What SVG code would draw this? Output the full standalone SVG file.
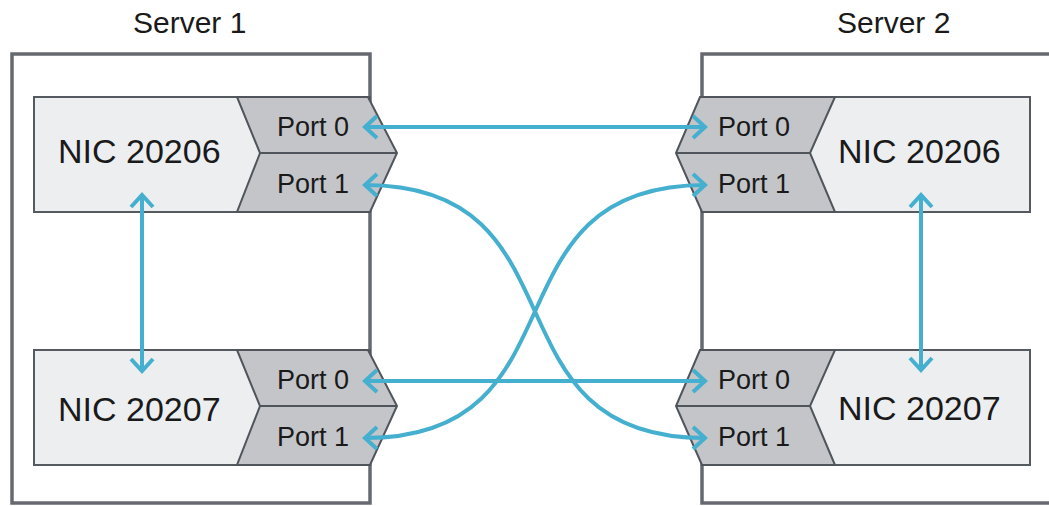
<svg xmlns="http://www.w3.org/2000/svg" width="1049" height="506" viewBox="0 0 1049 506">
<style>
.server{fill:#ffffff;stroke:#666a70;stroke-width:3.5}
.nic{fill:#eceef0;stroke:#555a60;stroke-width:2}
.port{fill:#c3c5c9;stroke:#4f555b;stroke-width:2;stroke-linejoin:miter}
.lbl{font-family:"Liberation Sans",Arial,sans-serif;fill:#1a1a1a}
.srv{font-size:30px}
.nict{font-size:34px}
.pt{font-size:27px}
.conn{fill:none;stroke:#45afcf;stroke-width:4;marker-start:url(#arr);marker-end:url(#arr)}
</style>
<defs>
<marker id="arr" markerUnits="userSpaceOnUse" orient="auto-start-reverse" refX="0" refY="0" markerWidth="30" markerHeight="30" viewBox="-20 -15 30 30" overflow="visible">
<path d="M -12 -11 L 0 0 L -12 11" fill="none" stroke="#45afcf" stroke-width="4"/>
</marker>
</defs>
<rect width="1049" height="506" fill="#ffffff"/>
<g id="server1">
<rect class="server" x="12" y="54" width="358" height="449"/>
<text class="lbl srv" x="133" y="33">Server 1</text>
</g>
<g id="server2">
<rect class="server" x="702" y="54" width="360" height="449"/>
<text class="lbl srv" x="837" y="33">Server 2</text>
</g>
<g id="s1-nic20206">
<rect class="nic" x="34" y="97" width="336" height="115"/>
<polygon class="port" points="237,97 368,97 397,153 370,212 237,212 260,153"/>
<line x1="260" y1="153" x2="397" y2="153" stroke="#4f555b" stroke-width="2"/>
<text class="lbl nict" x="58" y="163">NIC 20206</text>
<text class="lbl pt" x="277" y="136">Port 0</text>
<text class="lbl pt" x="277" y="193">Port 1</text>
</g>
<g id="s1-nic20207">
<rect class="nic" x="34" y="350" width="336" height="115"/>
<polygon class="port" points="237,350 368,350 397,406 370,465 237,465 260,406"/>
<line x1="260" y1="406" x2="397" y2="406" stroke="#4f555b" stroke-width="2"/>
<text class="lbl nict" x="58" y="421">NIC 20207</text>
<text class="lbl pt" x="277" y="389">Port 0</text>
<text class="lbl pt" x="277" y="446">Port 1</text>
</g>
<g id="s2-nic20206">
<rect class="nic" x="702" y="97" width="328" height="115"/>
<polygon class="port" points="835,97 700,97 676,153 702,212 835,212 810,153"/>
<line x1="676" y1="153" x2="810" y2="153" stroke="#4f555b" stroke-width="2"/>
<text class="lbl nict" x="838" y="163">NIC 20206</text>
<text class="lbl pt" x="718" y="136">Port 0</text>
<text class="lbl pt" x="718" y="193">Port 1</text>
</g>
<g id="s2-nic20207">
<rect class="nic" x="702" y="350" width="328" height="115"/>
<polygon class="port" points="835,350 700,350 676,406 702,465 835,465 810,406"/>
<line x1="676" y1="406" x2="810" y2="406" stroke="#4f555b" stroke-width="2"/>
<text class="lbl nict" x="838" y="420">NIC 20207</text>
<text class="lbl pt" x="718" y="389">Port 0</text>
<text class="lbl pt" x="718" y="446">Port 1</text>
</g>
<g id="connectors">
<path class="conn" d="M 365 127 L 705 127"/>
<path class="conn" d="M 365 381 L 705 381"/>
<path class="conn" d="M 365 185 C 590 185 480 438 705 438"/>
<path class="conn" d="M 365 438 C 590 438 480 185 705 185"/>
<path class="conn" d="M 142 195 L 142 371"/>
<path class="conn" d="M 921 195 L 921 370"/>
</g>
</svg>
